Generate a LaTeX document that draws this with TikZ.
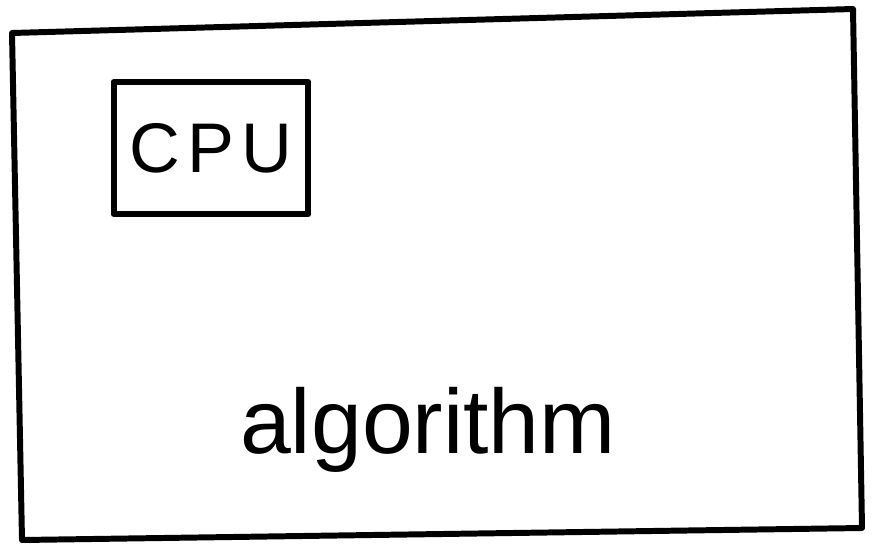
\documentclass[tikz,border=0pt]{standalone}
\usepackage{fontspec}
\setmainfont{Liberation Sans}
\usetikzlibrary{positioning}

\tikzset{pen/.style={line width=3.4pt,line join=round,line cap=round},
  cpubox/.style={pen,draw,minimum width=3.9cm,minimum height=2.65cm,inner sep=0pt}}

\begin{document}
\begin{tikzpicture}[x=0.02cm,y=-0.02cm]
    \useasboundingbox (0,0) rectangle (878,548);
    % outer box
    \coordinate (tl) at (12,33);
    \coordinate (tr) at (853,9);
    \coordinate (br) at (862,528);
    \coordinate (bl) at (22,540);
    \draw[pen] (tl) -- (tr) -- (br) -- (bl) -- cycle;
    \node[cpubox] (cpu) at (211,148) {\fontsize{40}{46}\selectfont C\kern0.1em P\kern0.1em U};
    \node (algo) at (428,430) {\fontsize{52}{56}\selectfont algorithm};
\end{tikzpicture}
\end{document}
